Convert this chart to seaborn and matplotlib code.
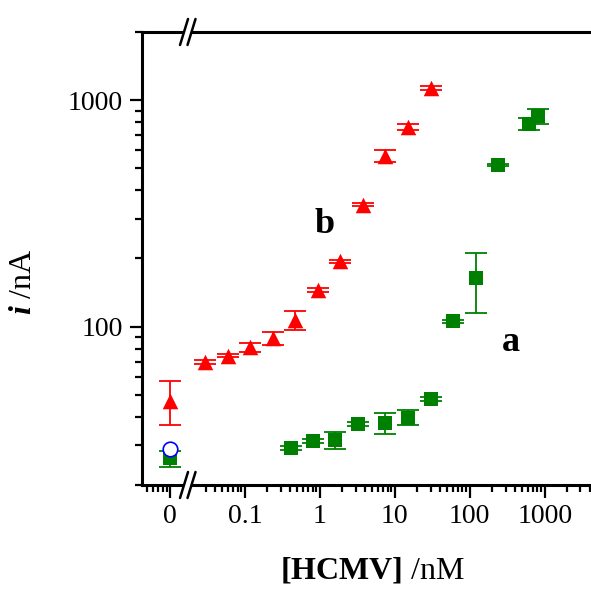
import numpy as np
import pandas as pd
import matplotlib
matplotlib.use("Agg")
import matplotlib.pyplot as plt
import matplotlib.ticker as mticker
from matplotlib.patches import Rectangle
import seaborn as sns

# [HCMV] (nM) vs current (nA)
conc_b = [0.0293, 0.0586, 0.117, 0.234, 0.469, 0.938, 1.875, 3.75, 7.5, 15, 30]
curr_b = [70, 74.5, 81, 89, 107, 145, 194, 346, 566, 764, 1133]
err_b = [1.4, 1.1, 3.8, 6.0, 10.5, 2.9, 3.0, 5.0, 34, 23, 23]

conc_a = [0.41, 0.82, 1.6, 3.2, 7.5, 15, 30, 60, 120, 240, 620, 820]
curr_a = [29.0, 31.4, 31.5, 37.3, 37.6, 39.7, 47.9, 105.7, 163.6, 516, 783, 847]
err_a = [0.6, 0.6, 2.8, 0.75, 4.1, 3.0, 1.0, 1.8, 48.8, 5, 47, 64]

# blanks (0 nM)
blank_b, blank_b_err = 47.2, 10.5
blank_a, blank_a_err = 26.2, 2.1
blank_open = 28.7

zero_pos = 0.01  # where "0" sits on the log axis, left of the break

x_major = [0.01, 0.1, 1, 10, 100, 1000]
x_labels = ["0", "0.1", "1", "10", "100", "1000"]

red = "#ff0000"
green = "#008000"

df_b = pd.DataFrame({"conc": [zero_pos] + conc_b,
                     "i": [blank_b] + curr_b,
                     "err": [blank_b_err] + err_b})
df_a = pd.DataFrame({"conc": [zero_pos] + conc_a,
                     "i": [blank_a] + curr_a,
                     "err": [blank_a_err] + err_a})
df_open = pd.DataFrame({"conc": [zero_pos], "i": [blank_open]})

sns.set_style("ticks")
plt.rcParams["font.family"] = ["Liberation Serif", "DejaVu Serif"]
plt.rcParams["mathtext.fontset"] = "custom"
plt.rcParams["mathtext.rm"] = "Liberation Serif"
plt.rcParams["mathtext.bf"] = "Liberation Serif:bold"
plt.rcParams["mathtext.bfit"] = "Liberation Serif:italic:bold"
plt.rcParams["text.color"] = "black"
plt.rcParams["axes.labelcolor"] = "black"
plt.rcParams["xtick.color"] = "black"
plt.rcParams["ytick.color"] = "black"
plt.rcParams["xtick.labelcolor"] = "black"
plt.rcParams["ytick.labelcolor"] = "black"

fig = plt.figure(figsize=(5.91, 5.90), dpi=100)
ax = fig.add_axes([0.2403, 0.178, 0.770, 0.7678])

# error bars first, markers on top
ax.errorbar(df_a["conc"], df_a["i"], yerr=df_a["err"], fmt="none",
            ecolor=green, elinewidth=1.3, capsize=8, capthick=1.3, zorder=2)
ax.errorbar(df_b["conc"], df_b["i"], yerr=df_b["err"], fmt="none",
            ecolor=red, elinewidth=1.3, capsize=8, capthick=1.3, zorder=2)
sns.scatterplot(data=df_a, x="conc", y="i", marker="s", s=88, color=green,
                linewidth=0, ax=ax, zorder=3)
sns.scatterplot(data=df_b, x="conc", y="i", marker="^", s=125, color=red,
                linewidth=0, ax=ax, zorder=3)
sns.scatterplot(data=df_open, x="conc", y="i", marker="o", s=110,
                facecolor="white", edgecolor="#0000ff", linewidth=1.2,
                ax=ax, zorder=4)

ax.set_xscale("log")
ax.set_yscale("log")
ax.set_xlim(0.004236, 5000)
ax.set_ylim(20, 2000)

# x ticks: "0" at zero_pos, minor ticks skip the break region
ax.xaxis.set_major_locator(mticker.FixedLocator(x_major))
ax.xaxis.set_major_formatter(mticker.FixedFormatter(x_labels))
minor_x = [k * 10.0 ** d for d in range(-3, 4) for k in range(2, 10)]
minor_x = [v for v in minor_x if not (0.0101 < v < 0.025)]
ax.xaxis.set_minor_locator(mticker.FixedLocator(minor_x))
ax.xaxis.set_minor_formatter(mticker.NullFormatter())

ax.yaxis.set_major_locator(mticker.FixedLocator([100, 1000]))
ax.yaxis.set_major_formatter(mticker.FixedFormatter(["100", "1000"]))
ax.yaxis.set_minor_locator(mticker.LogLocator(base=10, subs=np.arange(2, 10)))
ax.yaxis.set_minor_formatter(mticker.NullFormatter())

ax.tick_params(which="major", direction="out", length=9, width=1.6,
               labelsize=20, pad=5, color="black", labelcolor="black")
ax.tick_params(which="minor", direction="out", length=5, width=1.6,
               color="black")
ax.tick_params(top=False, right=False, which="both")

for side in ["left", "bottom", "top"]:
    ax.spines[side].set_linewidth(2.2)
    ax.spines[side].set_color("black")
ax.spines["right"].set_visible(False)

ax.set_xlabel(r"$\mathbf{[HCMV]}$ /nM", fontsize=23, color="black")
ax.set_ylabel(r"$\mathbfit{i}$ /nA", fontsize=23, color="black")
ax.xaxis.set_label_coords(0.507, -0.155)
ax.yaxis.set_label_coords(-0.228, 0.448)

ax.text(0.402, 0.556, "b", transform=ax.transAxes, fontsize=26,
        fontweight="bold", ha="center", va="baseline", color="black")
ax.text(0.811, 0.296, "a", transform=ax.transAxes, fontsize=26,
        fontweight="bold", ha="center", va="baseline", color="black")

# axis break marks on bottom and top spines
w_px, h_px = 455.0, 453.0
for ys in [0.0, 1.0]:
    ax.add_patch(Rectangle((41.5 / w_px, ys - 4 / h_px), 8 / w_px, 8 / h_px,
                           transform=ax.transAxes, facecolor="white",
                           edgecolor="none", clip_on=False, zorder=5))
    for xc in [42.0, 49.5]:
        ax.plot([(xc - 4) / w_px, (xc + 4) / w_px],
                [ys - 13 / h_px, ys + 13 / h_px],
                transform=ax.transAxes, color="black", lw=1.8,
                clip_on=False, zorder=6)

plt.savefig("out.png", dpi=100)
